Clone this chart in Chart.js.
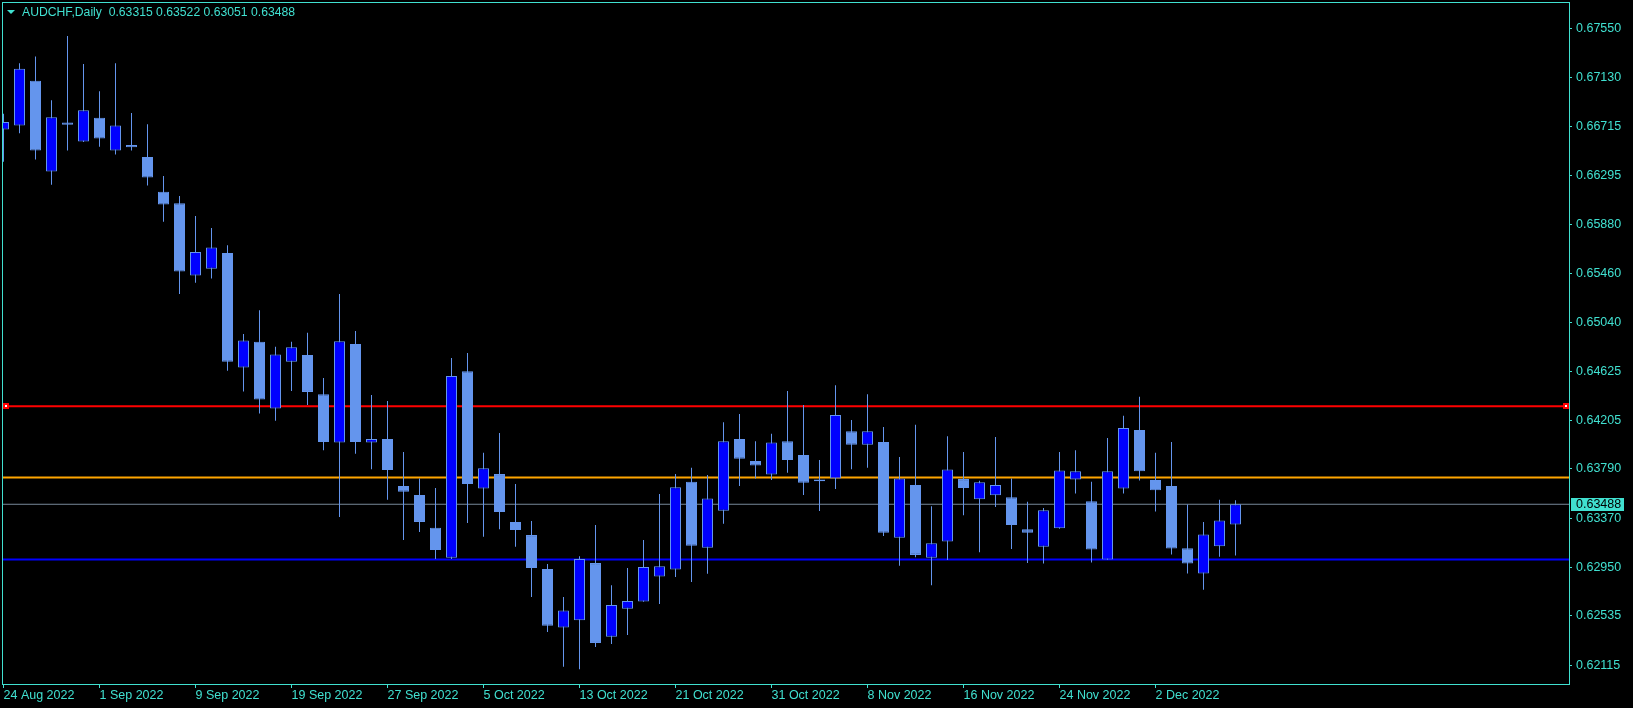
<!DOCTYPE html>
<html>
<head>
<meta charset="utf-8">
<script src="https://cdn.jsdelivr.net/npm/chart.js@4.4.0/dist/chart.umd.min.js"></script>
<style>
  html, body { margin: 0; padding: 0; background: #000; }
  canvas { display: block; }
</style>
</head>
<body>
<canvas id="chart" width="1633" height="708"></canvas>
<script>
// AUDCHF daily, 24 Aug 2022 .. 9 Dec 2022 (one bar per trading day)
const opens = [0.66687, 0.66721, 0.67103, 0.66328, 0.66748, 0.66586, 0.66787, 0.66509, 0.66556, 0.66452,
  0.66155, 0.66058, 0.65442, 0.65499, 0.65634, 0.64655, 0.64875, 0.64305, 0.64705, 0.64763,
  0.64428, 0.64015, 0.64856, 0.64015, 0.64046, 0.63645, 0.63568, 0.63287, 0.63032, 0.64624,
  0.63622, 0.63746, 0.63337, 0.63225, 0.62936, 0.62435, 0.62497, 0.62986, 0.62358, 0.62597,
  0.62659, 0.62871, 0.62932, 0.63680, 0.63117, 0.63433, 0.64046, 0.63857, 0.63742, 0.64027,
  0.63908, 0.63684, 0.63707, 0.64112, 0.63996, 0.64019, 0.63202, 0.63653, 0.63032, 0.63171,
  0.63703, 0.63530, 0.63564, 0.63549, 0.63275, 0.63125, 0.63283, 0.63699, 0.63514, 0.63017,
  0.63622, 0.64123, 0.63696, 0.63645, 0.63113, 0.62898, 0.63129, 0.63315];
const highs = [0.66822, 0.67253, 0.67311, 0.66937, 0.67485, 0.67246, 0.67014, 0.67253, 0.66829, 0.66733,
  0.66290, 0.66120, 0.65950, 0.65846, 0.65700, 0.64941, 0.65145, 0.64833, 0.64875, 0.64952,
  0.64567, 0.65284, 0.64968, 0.64420, 0.64370, 0.63934, 0.63707, 0.63626, 0.64736, 0.64779,
  0.63927, 0.64096, 0.63661, 0.63345, 0.62979, 0.62697, 0.63044, 0.63310, 0.62797, 0.62944,
  0.63183, 0.63576, 0.63746, 0.63800, 0.63738, 0.64189, 0.64258, 0.64027, 0.64089, 0.64455,
  0.64335, 0.63865, 0.64505, 0.64208, 0.64428, 0.64147, 0.63892, 0.64166, 0.63472, 0.64069,
  0.63934, 0.63688, 0.64062, 0.63707, 0.63510, 0.63457, 0.63934, 0.63950, 0.63680, 0.64054,
  0.64243, 0.64405, 0.63927, 0.64019, 0.63487, 0.63337, 0.63526, 0.63522];
const lows = [0.66413, 0.66656, 0.66432, 0.66216, 0.66509, 0.66580, 0.66540, 0.66475, 0.66509, 0.66209,
  0.65900, 0.65284, 0.65380, 0.65415, 0.64628, 0.64451, 0.64262, 0.64200, 0.64455, 0.64335,
  0.63950, 0.63379, 0.63919, 0.63788, 0.63526, 0.63183, 0.63252, 0.63021, 0.63021, 0.63329,
  0.63210, 0.63275, 0.63125, 0.62697, 0.62397, 0.62100, 0.62080, 0.62269, 0.62296, 0.62373,
  0.62655, 0.62636, 0.62867, 0.62824, 0.62894, 0.63322, 0.63645, 0.63707, 0.63696, 0.63757,
  0.63568, 0.63430, 0.63618, 0.63788, 0.63800, 0.63218, 0.62963, 0.63036, 0.62797, 0.63013,
  0.63395, 0.63079, 0.63464, 0.63106, 0.62986, 0.62982, 0.63280, 0.63580, 0.62990, 0.63015,
  0.63580, 0.63692, 0.63426, 0.63060, 0.62898, 0.62759, 0.63040, 0.63051];
const closes = [0.66752, 0.67207, 0.66509, 0.66791, 0.66729, 0.66852, 0.66610, 0.66721, 0.66536, 0.66278,
  0.66047, 0.65476, 0.65642, 0.65681, 0.64705, 0.64887, 0.64382, 0.64767, 0.64829, 0.64447,
  0.64019, 0.64879, 0.64019, 0.64046, 0.63780, 0.63595, 0.63337, 0.63098, 0.64582, 0.63661,
  0.63796, 0.63422, 0.63268, 0.62944, 0.62450, 0.62582, 0.63021, 0.62304, 0.62628, 0.62662,
  0.62952, 0.62959, 0.63634, 0.63133, 0.63537, 0.64027, 0.63877, 0.63819, 0.64015, 0.63865,
  0.63672, 0.63699, 0.64251, 0.63996, 0.64112, 0.63245, 0.63707, 0.63056, 0.63156, 0.63784,
  0.63626, 0.63676, 0.63653, 0.63310, 0.63245, 0.63437, 0.63776, 0.63769, 0.63102, 0.63769,
  0.64139, 0.63769, 0.63607, 0.63110, 0.62982, 0.63229, 0.63349, 0.63488];

// time axis labels (bar index -> date)
const tickIndex = [0, 6, 12, 18, 24, 30, 36, 42, 48, 54, 60, 66, 72];
const tickLabels = ["24 Aug 2022", "1 Sep 2022", "9 Sep 2022", "19 Sep 2022", "27 Sep 2022", "5 Oct 2022",
  "13 Oct 2022", "21 Oct 2022", "31 Oct 2022", "8 Nov 2022", "16 Nov 2022", "24 Nov 2022", "2 Dec 2022"];
// price axis labels
const priceTicks = [0.67550, 0.67130, 0.66715, 0.66295, 0.65880, 0.65460, 0.65040,
  0.64625, 0.64205, 0.63790, 0.63370, 0.62950, 0.62535, 0.62115];

// horizontal levels
const redLevel = 0.64325;
const orangeLevel = 0.63716;
const blueLevel = 0.63017;
const bidLevel = 0.63488;

const FG = '#40E0D0';
const BULL = '#0000FF';
const WICK = '#6495ED';
const FONT = 'Liberation Sans';

const idx = opens.map((_, i) => i);

function hline(level, color, width) {
  return {
    type: 'line',
    data: [{ x: -2, y: level }, { x: 120, y: level }],
    borderColor: color,
    borderWidth: width,
    pointRadius: 0,
    order: 3
  };
}

const overlay = {
  id: 'overlay',
  afterDraw(chart) {
    const { ctx, chartArea: a, scales: { y } } = chart;
    ctx.save();
    // frame
    ctx.strokeStyle = FG;
    ctx.lineWidth = 1;
    ctx.strokeRect(a.left - 0.5, a.top - 0.5, a.right - a.left + 1, a.bottom - a.top + 1);

    // header
    ctx.fillStyle = FG;
    ctx.beginPath();
    ctx.moveTo(7, 10); ctx.lineTo(15, 10); ctx.lineTo(11, 14); ctx.closePath();
    ctx.fill();
    const last = opens.length - 1;
    const ohlc = [opens[last], highs[last], lows[last], closes[last]].map(v => v.toFixed(5)).join(' ');
    ctx.font = '12.2px "' + FONT + '"';
    ctx.textBaseline = 'middle';
    ctx.textAlign = 'left';
    ctx.fillText('AUDCHF,Daily  ' + ohlc, 22, 13);

    // red line end markers
    const ry = Math.round(y.getPixelForValue(redLevel));
    [a.left, a.right - 6].forEach(x0 => {
      ctx.fillStyle = '#FF0000';
      ctx.fillRect(x0, ry - 3, 6, 6);
      ctx.fillStyle = '#FFFFFF';
      ctx.fillRect(x0 + 2, ry - 1, 2, 2);
    });

    // bid price label
    const by = Math.round(y.getPixelForValue(bidLevel));
    ctx.fillStyle = FG;
    ctx.fillRect(a.right + 2, by - 6, 53, 13);
    ctx.fillStyle = '#000';
    ctx.font = '12.5px "' + FONT + '"';
    ctx.fillText(bidLevel.toFixed(5), a.right + 7, by + 0.5);
    ctx.restore();
  }
};

new Chart(document.getElementById('chart'), {
  type: 'bar',
  data: {
    datasets: [
      {
        label: 'body',
        data: idx.map(i => ({ x: i, y: [opens[i], closes[i]] })),
        backgroundColor: idx.map(i => closes[i] > opens[i] ? BULL : WICK),
        borderColor: WICK,
        borderWidth: 1,
        borderSkipped: false,
        barThickness: 11,
        minBarLength: 1,
        inflateAmount: 0,
        grouped: false,
        order: 1
      },
      {
        label: 'wick',
        data: idx.map(i => ({ x: i, y: [lows[i], highs[i]] })),
        backgroundColor: WICK,
        borderWidth: 0,
        barThickness: 1,
        inflateAmount: 0,
        grouped: false,
        order: 2
      },
      hline(redLevel, '#FF0000', 2),
      hline(orangeLevel, '#FFA500', 2),
      hline(bidLevel, '#778899', 1),
      hline(blueLevel, '#0000FF', 2)
    ]
  },
  options: {
    responsive: false,
    devicePixelRatio: 1,
    animation: false,
    layout: { padding: { left: 3, top: 3, right: 0, bottom: 0 } },
    plugins: {
      legend: { display: false },
      tooltip: { enabled: false }
    },
    scales: {
      x: {
        type: 'linear',
        offset: false,
        min: -0.03125,
        max: 97.84375,
        afterBuildTicks: s => { s.ticks = tickIndex.map(v => ({ value: v })); },
        afterFit: s => { s.height = 24; s.paddingLeft = 0; s.paddingRight = 0; },
        border: { display: false },
        grid: { offset: false, drawOnChartArea: false, drawTicks: true, tickLength: 4, color: FG },
        ticks: {
          autoSkip: false,
          maxRotation: 0,
          align: 'start',
          padding: 0,
          color: FG,
          font: { family: FONT, size: 12.5 },
          callback: (v, i) => tickLabels[i]
        }
      },
      y: {
        type: 'linear',
        position: 'right',
        min: 0.619537,
        max: 0.677673,
        afterBuildTicks: s => { s.ticks = priceTicks.map(v => ({ value: v })); },
        afterFit: s => { s.width = 64; s.paddingTop = 0; s.paddingBottom = 0; },
        border: { display: false },
        grid: { drawOnChartArea: false, drawTicks: true, tickLength: 3, color: FG },
        ticks: {
          padding: 4,
          color: FG,
          font: { family: FONT, size: 12.5 },
          callback: v => v.toFixed(5)
        }
      }
    }
  },
  plugins: [overlay]
});
</script>
</body>
</html>
